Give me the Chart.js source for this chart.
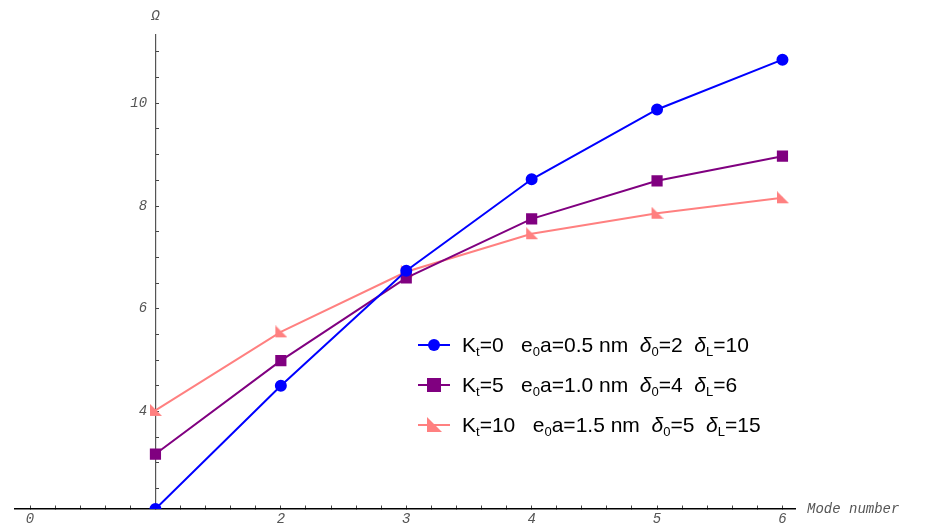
<!DOCTYPE html>
<html>
<head>
<meta charset="utf-8">
<script src="https://cdn.jsdelivr.net/npm/chart.js@4/dist/chart.umd.min.js"></script>
<style>
  html, body { margin: 0; padding: 0; background: #fff; }
  #wrap { position: relative; width: 933px; height: 526px; }
  #legend {
    position: absolute; left: 418px; top: 325px;
    font-family: "Liberation Sans", Arial, sans-serif; font-size: 21px; color: #000;
  }
  #legend .row { height: 40px; line-height: 28px; white-space: pre; display: flex; align-items: center; }
  #legend svg { margin-right: 12px; }
  #legend sub { font-size: 13px; vertical-align: -4px; line-height: 0; }
  #legend i { font-style: italic; }
</style>
</head>
<body>
<div id="wrap">
  <canvas id="c" width="933" height="526"></canvas>
  <div id="legend"></div>
</div>
<script>
let modes = [1, 2, 3, 4, 5, 6]
let omega_kt0 = [2.1, 4.5, 6.74, 8.52, 9.88, 10.85]
let omega_kt5 = [3.17, 4.99, 6.6, 7.75, 8.49, 8.97]
let omega_kt10 = [4.02, 5.55, 6.72, 7.46, 7.86, 8.16]
let y_labels = [4, 6, 8, 10]
let x_labels = [0, 2, 3, 4, 5, 6]

let series_names = [
    "K<sub>t</sub>=0   e<sub>0</sub>a=0.5 nm  <i>δ</i><sub>0</sub>=2  <i>δ</i><sub>L</sub>=10",
    "K<sub>t</sub>=5   e<sub>0</sub>a=1.0 nm  <i>δ</i><sub>0</sub>=4  <i>δ</i><sub>L</sub>=6",
    "K<sub>t</sub>=10   e<sub>0</sub>a=1.5 nm  <i>δ</i><sub>0</sub>=5  <i>δ</i><sub>L</sub>=15"
]
let colors = ["#0000ff", "#800080", "#ff8080"]

// right-angle triangle marker
function triMarker(color, size) {
    let cv = document.createElement("canvas")
    cv.width = size; cv.height = size
    let g = cv.getContext("2d")
    g.fillStyle = color
    g.beginPath()
    g.moveTo(1, 0); g.lineTo(size, size - 1); g.lineTo(1, size - 1); g.closePath()
    g.fill()
    return cv
}

function pairs(ys) {
    return modes.map((m, i) => ({x: m, y: ys[i]}))
}

// tick values every `step` between a and b
function tickList(a, b, step) {
    let out = []
    for (let k = Math.round(a / step); k * step <= b + 1e-9; k++) out.push({value: +(k * step).toFixed(3)})
    return out
}

let tickFont = {family: "'Liberation Mono', 'DejaVu Sans Mono', monospace", style: "italic", size: 14, lineHeight: 1}

let axisLabels = {
    id: "axisLabels",
    afterDraw(chart) {
        let ctx = chart.ctx
        let xs = chart.scales.x, ys = chart.scales.y
        ctx.save()
        ctx.fillStyle = "#555"
        ctx.font = "italic 14px 'Liberation Mono', monospace"
        ctx.textBaseline = "middle"
        ctx.textAlign = "left"
        ctx.fillText("Mode number", xs.right + 12, ys.getPixelForValue(2.1))
        ctx.textAlign = "center"
        ctx.fillText("Ω", xs.getPixelForValue(1), ys.top - 19)
        ctx.restore()
    }
}

new Chart(document.getElementById("c").getContext("2d"), {
    type: "line",
    data: {
        datasets: [{
            label: "kt0",
            data: pairs(omega_kt0),
            borderColor: colors[0],
            backgroundColor: colors[0],
            borderWidth: 2,
            pointStyle: "circle",
            pointRadius: 5,
            pointHoverRadius: 5
        }, {
            label: "kt5",
            data: pairs(omega_kt5),
            borderColor: colors[1],
            backgroundColor: colors[1],
            borderWidth: 2,
            pointStyle: "rect",
            pointRadius: 6.5,
            pointHoverRadius: 6.5
        }, {
            label: "kt10",
            data: pairs(omega_kt10),
            borderColor: colors[2],
            backgroundColor: colors[2],
            borderWidth: 2,
            pointStyle: triMarker(colors[2], 13)
        }]
    },
    options: {
        responsive: false,
        animation: false,
        layout: {padding: {left: 15, right: 138, top: 35, bottom: 17}},
        plugins: {legend: {display: false}, tooltip: {enabled: false}},
        scales: {
            x: {
                type: "linear",
                position: {y: 2.1},
                min: -0.12,
                max: 6.1,
                afterBuildTicks: axis => { axis.ticks = tickList(0, 6, 0.2) },
                grid: {drawOnChartArea: false, tickLength: -4, tickColor: "#444"},
                border: {color: "#000", width: 1.5},
                ticks: {
                    autoSkip: false,
                    maxRotation: 0,
                    color: "#555",
                    font: tickFont,
                    padding: 7,
                    callback: v => {
                        let r = Math.round(v)
                        return (Math.abs(v - r) < 1e-6 && x_labels.includes(r)) ? String(r) : ""
                    }
                }
            },
            y: {
                type: "linear",
                position: {x: 1},
                min: 2.1,
                max: 11.33,
                afterBuildTicks: axis => { axis.ticks = tickList(2.5, 11, 0.5) },
                grid: {drawOnChartArea: false, tickLength: -4, tickColor: "#444"},
                border: {color: "#555", width: 1.2},
                ticks: {
                    autoSkip: false,
                    color: "#555",
                    font: tickFont,
                    callback: v => {
                        let r = Math.round(v)
                        // trailing space keeps the label off the axis line
                        return (Math.abs(v - r) < 1e-6 && y_labels.includes(r)) ? String(r) + " " : ""
                    }
                }
            }
        }
    },
    plugins: [axisLabels]
});

// legend
let shapes = [
    c => `<circle cx="16" cy="10" r="6" fill="${c}"/>`,
    c => `<rect x="9" y="3" width="14" height="14" fill="${c}"/>`,
    c => `<polygon points="9,2 24,17 9,17" fill="${c}"/>`
]
let legend = document.getElementById("legend")
series_names.forEach((name, i) => {
    let row = document.createElement("div")
    row.className = "row"
    row.innerHTML = `<svg width="32" height="20"><line x1="0" y1="10" x2="32" y2="10" stroke="${colors[i]}" stroke-width="2"/>${shapes[i](colors[i])}</svg><span>${name}</span>`
    legend.appendChild(row)
})
</script>
</body>
</html>
